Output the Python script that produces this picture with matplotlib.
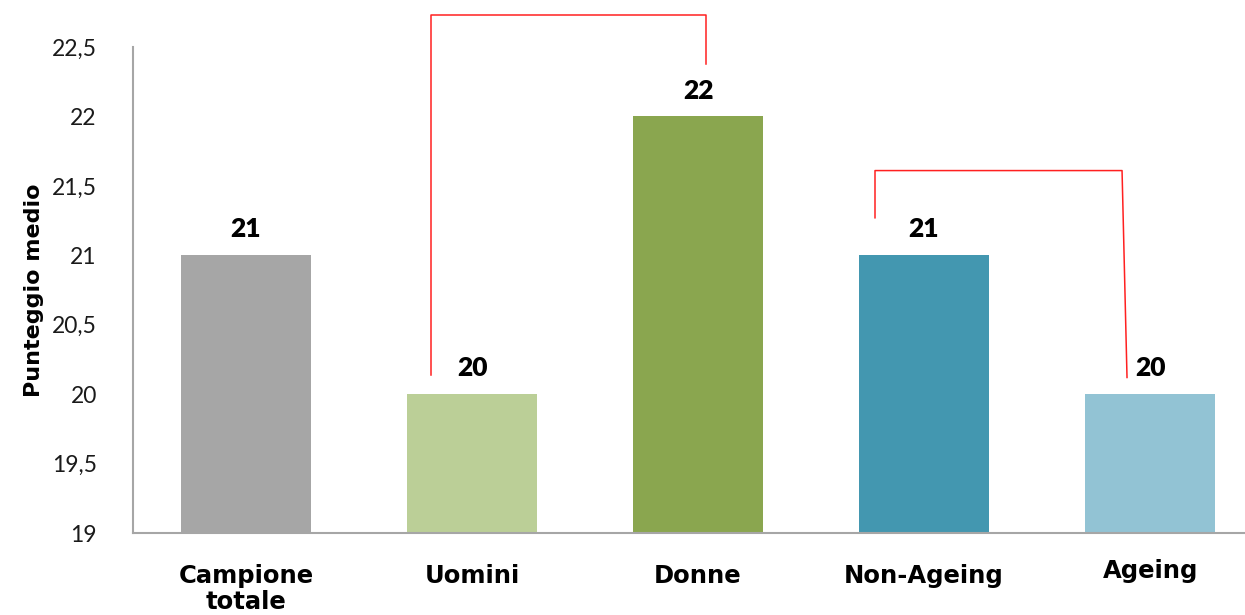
import numpy as np
import matplotlib
matplotlib.use("Agg")
import matplotlib.pyplot as plt
import matplotlib.transforms as mtransforms

# Data
categories = ["Campione\ntotale", "Uomini", "Donne", "Non-Ageing", "Ageing"]
values = [21, 20, 22, 21, 20]
value_labels = ["21", "20", "22", "21", "20"]
bar_colours = ["#A6A6A6", "#BBCF97", "#8AA64F", "#4397B0", "#92C3D4"]
yticks = [19, 19.5, 20, 20.5, 21, 21.5, 22, 22.5]
ytick_labels = ["19", "19,5", "20", "20,5", "21", "21,5", "22", "22,5"]

# Significance brackets: (bar a, bar b, top, left leg bottom, right leg bottom)
brackets = [
    (1, 2, 22.73, 20.14, 22.38),
    (3, 4, 21.61, 21.27, 20.12),
]
# leg offsets from the bar centres
bracket_offsets = [(-0.18, 0.035), (-0.217, -0.124)]

plt.rcParams['font.family'] = ['Lato', 'DejaVu Sans']

fig = plt.figure(figsize=(12.45, 6.15), dpi=100)
ax = fig.add_axes([0.1068, 0.1333, 0.8932, 0.7903])

x = np.arange(len(categories))
ax.bar(x, [v - 19 for v in values], bottom=19, width=0.575, color=bar_colours)

for xi, v, lab in zip(x, values, value_labels):
    ax.text(xi, v + 0.1, lab, ha="center", va="bottom", fontsize=19,
            fontweight="heavy", color="black")

ax.set_ylim(19, 22.5)
ax.set_xlim(-0.5, 4.42)
ax.set_yticks(yticks)
ax.set_yticklabels(ytick_labels, fontsize=16.5, color="#1a1a1a", fontweight="normal")
ax.tick_params(axis="y", length=0, pad=26)
ax.set_xticks(x)
ax.set_xticklabels(categories, fontsize=17.5, fontweight="bold", linespacing=1.15,
                   family=["DejaVu Sans"])
ax.tick_params(axis="x", length=0, pad=22)

# Ageing label sits a bit higher
lbl = ax.get_xticklabels()[4]
lbl.set_transform(lbl.get_transform() + mtransforms.ScaledTranslation(0, 5 / 100, fig.dpi_scale_trans))

for side in ["top", "right"]:
    ax.spines[side].set_visible(False)
for side in ["left", "bottom"]:
    ax.spines[side].set_color("#A6A6A6")
    ax.spines[side].set_linewidth(1.5)

ax.set_ylabel("Punteggio medio", fontsize=16, fontweight="bold", family=["DejaVu Sans"])
ax.yaxis.set_label_coords(-0.08, 0.5)

for (a, b, top, la, lb), (oa, ob) in zip(brackets, bracket_offsets):
    xa = x[a] + oa
    xb = x[b] + ob
    ax.plot([xa, xa, xb, xb + (0.022 if b == 4 else 0)], [la, top, top, lb],
            color="#FF2020", lw=1.1, clip_on=False)

fig.savefig("out.png", dpi=100)
